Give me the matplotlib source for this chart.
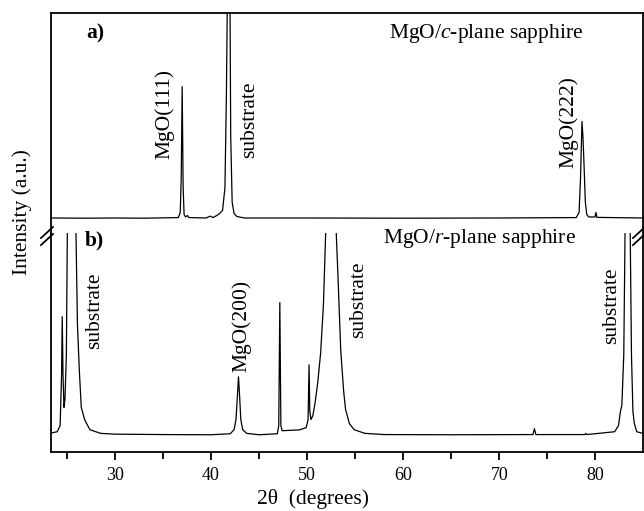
"""XRD patterns of MgO films on c-plane and r-plane sapphire (broken y axis)."""

import matplotlib
matplotlib.use("Agg")
import matplotlib.pyplot as plt

# upper pattern: MgO / c-plane sapphire (2theta, intensity a.u.)
c_two_theta = [23.4, 27.0, 30.0, 33.0, 36.6, 36.8, 36.9, 37.0, 37.1, 37.2, 37.35,
               37.55, 37.7, 39.5, 39.9, 40.2, 40.6, 40.9, 41.2, 41.45, 41.6, 41.75,
               41.95, 42.05, 42.2, 42.4, 42.7, 43.5, 50.0, 60.0, 70.0, 78.0, 78.3,
               78.45, 78.6, 78.7, 78.8, 78.95, 79.1, 79.3, 79.95, 80.05, 80.15, 84.9]
c_intensity = [0.3, 0.2, 0.3, 0.2, 0.5, 3.0, 20.0, 64.2, 15.0, 2.0, 0.8,
               1.5, 0.5, 0.3, 1.2, 0.5, 1.5, 2.5, 4.0, 15.0, 60.0, 130.0,
               130.0, 40.0, 8.0, 2.5, 1.0, 0.3, 0.3, 0.2, 0.3, 0.5, 3.0,
               20.0, 47.2, 40.0, 28.0, 8.0, 2.0, 0.8, 0.8, 3.0, 0.6, 0.3]

# lower pattern: MgO / r-plane sapphire
r_two_theta = [23.4, 24.0, 24.3, 24.45, 24.52, 24.6, 24.7, 24.8, 24.95, 25.05, 25.3,
               25.55, 25.8, 25.95, 26.1, 26.3, 26.5, 26.86, 27.4, 28.5, 30.0, 35.0,
               40.0, 42.0, 42.4, 42.6, 42.75, 42.86, 42.97, 43.1, 43.3, 43.7, 45.0,
               46.9, 47.05, 47.16, 47.27, 47.4, 49.2, 49.9, 50.1, 50.2, 50.28, 50.4,
               50.6, 50.82, 51.1, 51.41, 51.7, 51.93, 52.2, 52.5, 52.8, 53.03, 53.2,
               53.5, 53.8, 54.0, 54.4, 54.9, 56.0, 58.0, 65.0, 73.5, 73.65, 73.8,
               78.9, 79.0, 79.1, 82.0, 82.4, 82.6, 82.75, 82.95, 83.08, 83.3, 83.62,
               83.75, 83.9, 84.05, 84.3, 84.9]
r_intensity = [1.4, 2.0, 5.0, 30.0, 58.7, 30.0, 14.0, 18.0, 40.0, 100.0, 250.0,
               400.0, 250.0, 100.0, 55.0, 32.0, 14.0, 7.8, 3.0, 1.2, 0.8, 0.6,
               0.5, 1.0, 3.0, 8.0, 20.0, 29.1, 20.0, 8.0, 3.0, 1.2, 0.5,
               1.0, 5.0, 65.7, 5.0, 2.5, 2.9, 4.0, 8.0, 35.0, 12.0, 8.0,
               10.0, 16.0, 26.0, 41.0, 65.0, 100.0, 200.0, 300.0, 200.0, 100.0, 80.0,
               42.0, 22.0, 13.0, 6.0, 3.0, 1.2, 0.6, 0.5, 0.6, 3.5, 0.6,
               0.6, 1.2, 0.6, 2.0, 5.0, 12.0, 15.0, 40.0, 100.0, 300.0, 100.0,
               40.0, 12.0, 6.0, 2.0, 1.2]

x_ticks = [30, 40, 50, 60, 70, 80]
x_minor = [25, 35, 45, 55, 65, 75]

plt.rcParams["font.family"] = "Liberation Serif"
plt.rcParams["mathtext.fontset"] = "custom"
plt.rcParams["mathtext.rm"] = "Liberation Serif"
plt.rcParams["mathtext.it"] = "Liberation Serif:italic"

fig = plt.figure(figsize=(6.44, 5.11), dpi=100)
W, H = 644.0, 511.0
left, right = 51 / W, 643 / W
ax_top = fig.add_axes([left, 1 - 233 / H, right - left, 220 / H])
ax_bot = fig.add_axes([left, 1 - 452 / H, right - left, 219 / H], sharex=ax_top)

ax_top.plot(c_two_theta, c_intensity, color="black", lw=0.9)
ax_bot.plot(r_two_theta, r_intensity, color="black", lw=0.9)

ax_top.set_ylim(-7, 100)
ax_bot.set_ylim(-8, 100)
ax_bot.set_xlim(23.35, 84.95)

for ax in (ax_top, ax_bot):
    ax.set_yticks([])
    for s in ax.spines.values():
        s.set_linewidth(1.3)
ax_top.spines["bottom"].set_visible(False)
ax_bot.spines["top"].set_visible(False)
ax_top.tick_params(axis="x", which="both", bottom=False, labelbottom=False)

ax_bot.set_xticks(x_ticks)
ax_bot.set_xticks(x_minor, minor=True)
ax_bot.tick_params(axis="x", which="major", direction="out", length=6, width=1.3,
                   labelsize=13, pad=5)
ax_bot.tick_params(axis="x", which="minor", direction="out", length=5, width=1.3)

fs = 15.5
# panel annotations
ax_top.text(0.075, 0.905, "a)", transform=ax_top.transAxes, fontsize=fs,
            fontweight="bold", ha="center", va="center")
ax_bot.text(0.074, 0.968, "b)", transform=ax_bot.transAxes, fontsize=fs,
            fontweight="bold", ha="center", va="center")
ax_top.text(0.735, 0.907, "MgO/$\\mathit{c}$-plane sapphire", transform=ax_top.transAxes,
            fontsize=fs, ha="center", va="center")
ax_bot.text(0.723, 0.975, "MgO/$\\mathit{r}$-plane sapphire", transform=ax_bot.transAxes,
            fontsize=fs, ha="center", va="center")

ax_top.text(35.21, 50.9, "MgO(111)", rotation=90, fontsize=fs, ha="center", va="center")
ax_top.text(44.06, 48.2, "substrate", rotation=90, fontsize=fs, ha="center", va="center")
ax_top.text(77.22, 47.0, "MgO(222)", rotation=90, fontsize=fs, ha="center", va="center")
ax_bot.text(27.93, 61.8, "substrate", rotation=90, fontsize=fs, ha="center", va="center")
ax_bot.text(43.19, 54.1, "MgO(200)", rotation=90, fontsize=fs, ha="center", va="center")
ax_bot.text(55.37, 67.0, "substrate", rotation=90, fontsize=fs, ha="center", va="center")
ax_bot.text(81.73, 64.0, "substrate", rotation=90, fontsize=fs, ha="center", va="center")

# axis break marks
for x0, x1 in [(41, 53), (633, 645)]:
    for dy in (0, 7):
        fig.add_artist(plt.Line2D([x0 / W, x1 / W],
                                  [1 - (238 + dy) / H, 1 - (227 + dy) / H],
                                  color="black", lw=1.3))

fig.text(22 / W, 1 - 212 / H, "Intensity (a.u.)", rotation=90, fontsize=fs,
         ha="center", va="center")
fig.text(313 / W, 1 - 499 / H, "2θ  (degrees)", fontsize=fs, ha="center", va="center")

fig.savefig("out.png", dpi=100)
